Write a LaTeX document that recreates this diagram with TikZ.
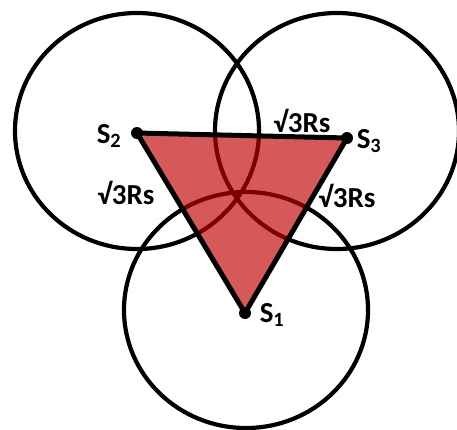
\documentclass[tikz,border=0pt]{standalone}
\usepackage{fontspec}
\setmainfont{Carlito}
\usetikzlibrary{shapes.geometric, positioning}

\definecolor{trired}{RGB}{192,0,0}

\begin{document}
\begin{tikzpicture}[
    x=1pt, y=-1pt,
    every node/.style={font=\bfseries\fontsize{29}{31}\selectfont, inner sep=0pt},
    ring/.style={ellipse, draw=black, line width=4.2pt, minimum width=244pt, minimum height=236pt, inner sep=0pt},
    dot/.style={circle, fill=black, minimum size=12pt, inner sep=0pt},
    tri/.style={fill=trired, fill opacity=0.65},
    edge/.style={line width=5pt, line join=round}
]
\useasboundingbox (0,0) rectangle (457,429);

% CIRCLES
\node[ring] (c2) at (137,131) {};
\node[ring] (c3) at (337,131) {};
\node[ring] (c1) at (246,310) {};

% SENSORS
\coordinate (s1) at (245,313);
\coordinate (s2) at (137,133);
\coordinate (s3) at (347,138);

% TRIANGLE
\fill[tri] (s1) -- (s2) -- (s3) -- cycle;
\draw[edge] (s1) -- (s2) -- (s3) -- cycle;

\node[dot] (d1) at (s1) {};
\node[dot] (d2) at (s2) {};
\node[dot] (d3) at (s3) {};

% LABELS
\node (l1) at (272,315) {S\textsubscript{1}};
\node (l2) at (109,136) {S\textsubscript{2}};
\node (l3) at (369,141) {S\textsubscript{3}};
\node (e12) at (126,193) {√3Rs};
\node (e23) at (302,121) {√3Rs};
\node (e13) at (347,196) {√3Rs};

\end{tikzpicture}
\end{document}
